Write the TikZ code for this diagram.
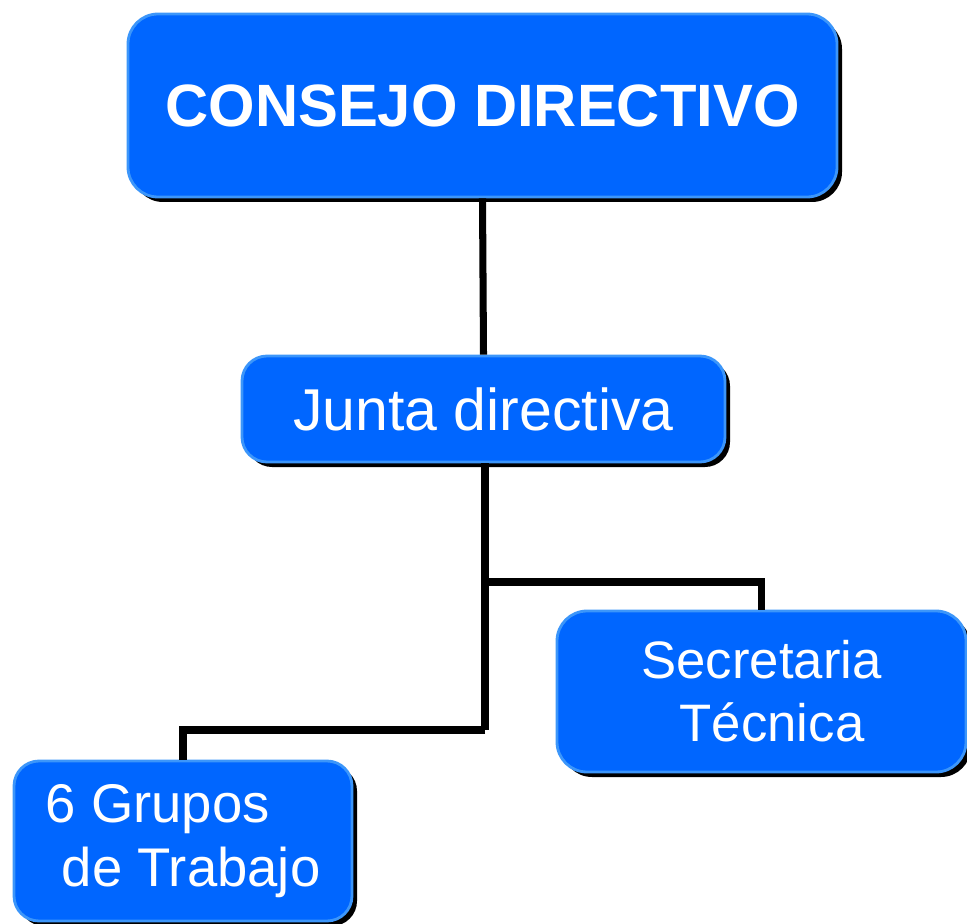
\documentclass[tikz,border=0pt]{standalone}
\usepackage{fontspec}
\setmainfont{Liberation Sans}
\usetikzlibrary{shadows}
\definecolor{boxblue}{RGB}{0,102,255}
\definecolor{edgeblue}{RGB}{60,150,250}
\tikzset{
  orgbox/.style={draw=edgeblue, line width=0.8pt, fill=boxblue, text=white,
    rounded corners=0.25cm, inner sep=0pt,
    drop shadow={shadow xshift=0.05cm, shadow yshift=-0.05cm, fill=black, opacity=1}},
  link/.style={line width=2pt, black}
}
\begin{document}
\begin{tikzpicture}
  \clip (0,0) rectangle (9.67,9.23);
  \node[orgbox, rounded corners=0.3cm, minimum width=7.09cm, minimum height=1.83cm,
    font=\fontsize{17}{20}\selectfont\bfseries] (consejo) at (4.825,8.175) {CONSEJO DIRECTIVO};
  \node[orgbox, minimum width=4.83cm, minimum height=1.06cm,
    font=\fontsize{16.8}{19}\selectfont] (junta) at (4.835,5.14) {Junta directiva};
  \node[orgbox, rounded corners=0.3cm, minimum width=4.09cm, minimum height=1.61cm, align=center,
    font=\fontsize{15}{18}\selectfont] (secre) at (7.615,2.315) {Secretaria\\\hspace{0.4em}Técnica};
  \node[orgbox, minimum width=3.38cm, minimum height=1.6cm, align=left,
    font=\fontsize{15.5}{18}\selectfont] (grupos) at (1.83,0.82) {6 Grupos\hspace{1.6em}\\\hspace{0.3em}de Trabajo};
  \coordinate (split) at (4.85,3.41);
  \coordinate (fork) at (4.85,1.93);
  % connectors
  \draw[link] (consejo.south) -- (junta.north);
  \draw[link] (junta.south -| split) -- (fork);
  \draw[link] (split) -| (secre.north);
  \draw[link] (fork) -| (grupos.north);
\end{tikzpicture}
\end{document}
